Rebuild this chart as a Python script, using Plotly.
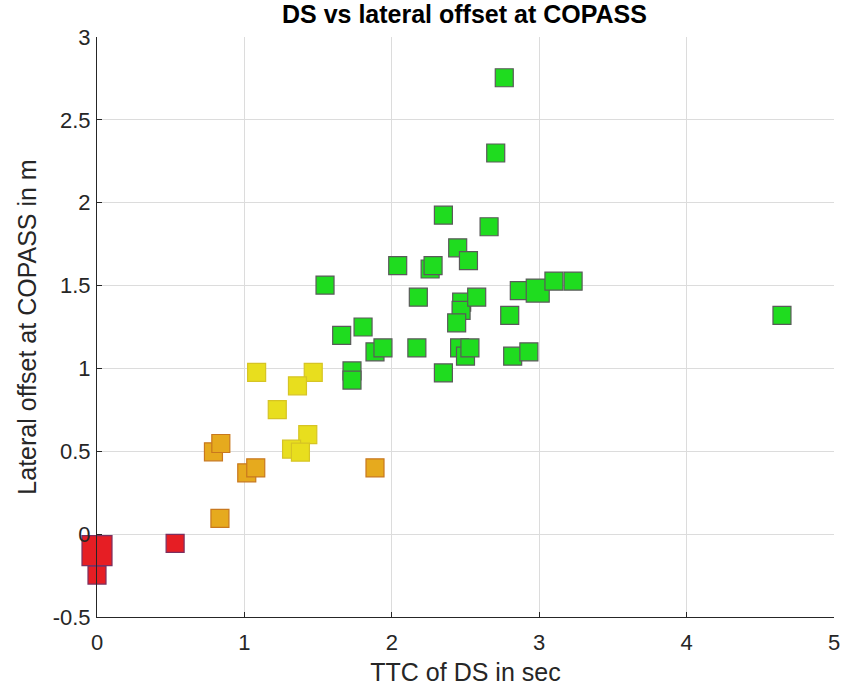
import plotly.graph_objects as go

# Data
green_x = [2.763, 2.705, 2.35, 2.66, 2.447, 2.52, 2.04, 2.26, 2.28, 1.547, 2.18, 2.474, 2.47, 2.44,
           2.576, 2.865, 2.99, 3.10, 3.23, 2.80, 4.647, 1.66, 1.805, 1.73, 1.73, 1.886, 1.94, 2.17,
           2.46, 2.50, 2.53, 2.82, 2.93, 2.35]
green_y = [2.754, 2.30, 1.925, 1.855, 1.728, 1.65, 1.62, 1.60, 1.62, 1.503, 1.43, 1.40, 1.35, 1.275,
           1.43, 1.47, 1.47, 1.527, 1.527, 1.32, 1.32, 1.20, 1.25, 0.985, 0.93, 1.10, 1.124, 1.124,
           1.124, 1.074, 1.124, 1.074, 1.10, 0.973]
green_s = [18] * len(green_x)
green_s[16] = 23

yellow_x = [1.083, 1.467, 1.36, 1.223, 1.43, 1.32, 1.38]
yellow_y = [0.976, 0.976, 0.895, 0.752, 0.60, 0.513, 0.495]
yellow_s = [18] * len(yellow_x)

orange_x = [0.79, 0.84, 1.016, 1.077, 1.886, 0.834]
orange_y = [0.497, 0.547, 0.37, 0.40, 0.40, 0.095]
orange_s = [18] * len(orange_x)

red_x = [0.53, 0.0, 0.0]
red_y = [-0.056, -0.247, -0.10]
red_s = [18, 18, 30]

x_ticks = [0, 1, 2, 3, 4, 5]
y_ticks = [-0.5, 0, 0.5, 1, 1.5, 2, 2.5, 3]
y_tick_labels = ["-0.5", "0", "0.5", "1", "1.5", "2", "2.5", "3"]

groups = [
    (green_x, green_y, green_s, "#1fdc1f", "#5a5a5a"),
    (yellow_x, yellow_y, yellow_s, "#e8de1e", "#d6c424"),
    (orange_x, orange_y, orange_s, "#e6aa1e", "#c8781e"),
    (red_x, red_y, red_s, "#e61e24", "#7a3060"),
]

fig = go.Figure()
for gx, gy, gs, fill, edge in groups:
    fig.add_trace(go.Scatter(
        x=gx, y=gy, mode="markers",
        marker=dict(symbol="square", size=gs, color=fill, opacity=1,
                    line=dict(color=edge, width=1.2)),
        showlegend=False, hoverinfo="x+y", cliponaxis=False,
    ))

font_family = "Liberation Sans, Arial, sans-serif"
fig.update_layout(
    width=843, height=686,
    margin=dict(l=97, r=9, t=37, b=69, autoexpand=False),
    paper_bgcolor="white", plot_bgcolor="white",
    font=dict(family=font_family, color="#262626"),
    title=dict(text="<b>DS vs lateral offset at COPASS</b>", x=0.4986, xref="paper",
               xanchor="center", y=0.979, yanchor="middle", automargin=False,
               font=dict(size=25, color="#000000")),
)
fig.update_xaxes(
    range=[0, 5], tickvals=x_ticks, ticktext=[str(t) for t in x_ticks],
    showgrid=True, gridcolor="#dcdcdc", gridwidth=1,
    showline=True, linecolor="#262626", linewidth=1,
    ticks="inside", ticklen=5, tickcolor="#262626", ticklabelstandoff=6,
    ticklabeloverflow="allow",
    tickfont=dict(size=22, color="#262626"), automargin=False,
    title=dict(text="TTC of DS in sec", font=dict(size=25, color="#262626"), standoff=9),
    zeroline=False,
)
fig.update_yaxes(
    range=[-0.5, 3], tickvals=y_ticks, ticktext=y_tick_labels,
    showgrid=True, gridcolor="#dcdcdc", gridwidth=1,
    showline=True, linecolor="#262626", linewidth=1,
    ticks="inside", ticklen=5, tickcolor="#262626", ticklabelstandoff=1,
    ticklabeloverflow="allow",
    tickfont=dict(size=22, color="#262626"), automargin=False,
    title=dict(text="Lateral offset at COPASS in m", font=dict(size=25, color="#262626"), standoff=8),
    zeroline=False,
)

fig.write_html(
    "out.html",
    config={"displayModeBar": False},
    post_script="document.body.style.margin='0';document.body.style.overflow='hidden';",
)
